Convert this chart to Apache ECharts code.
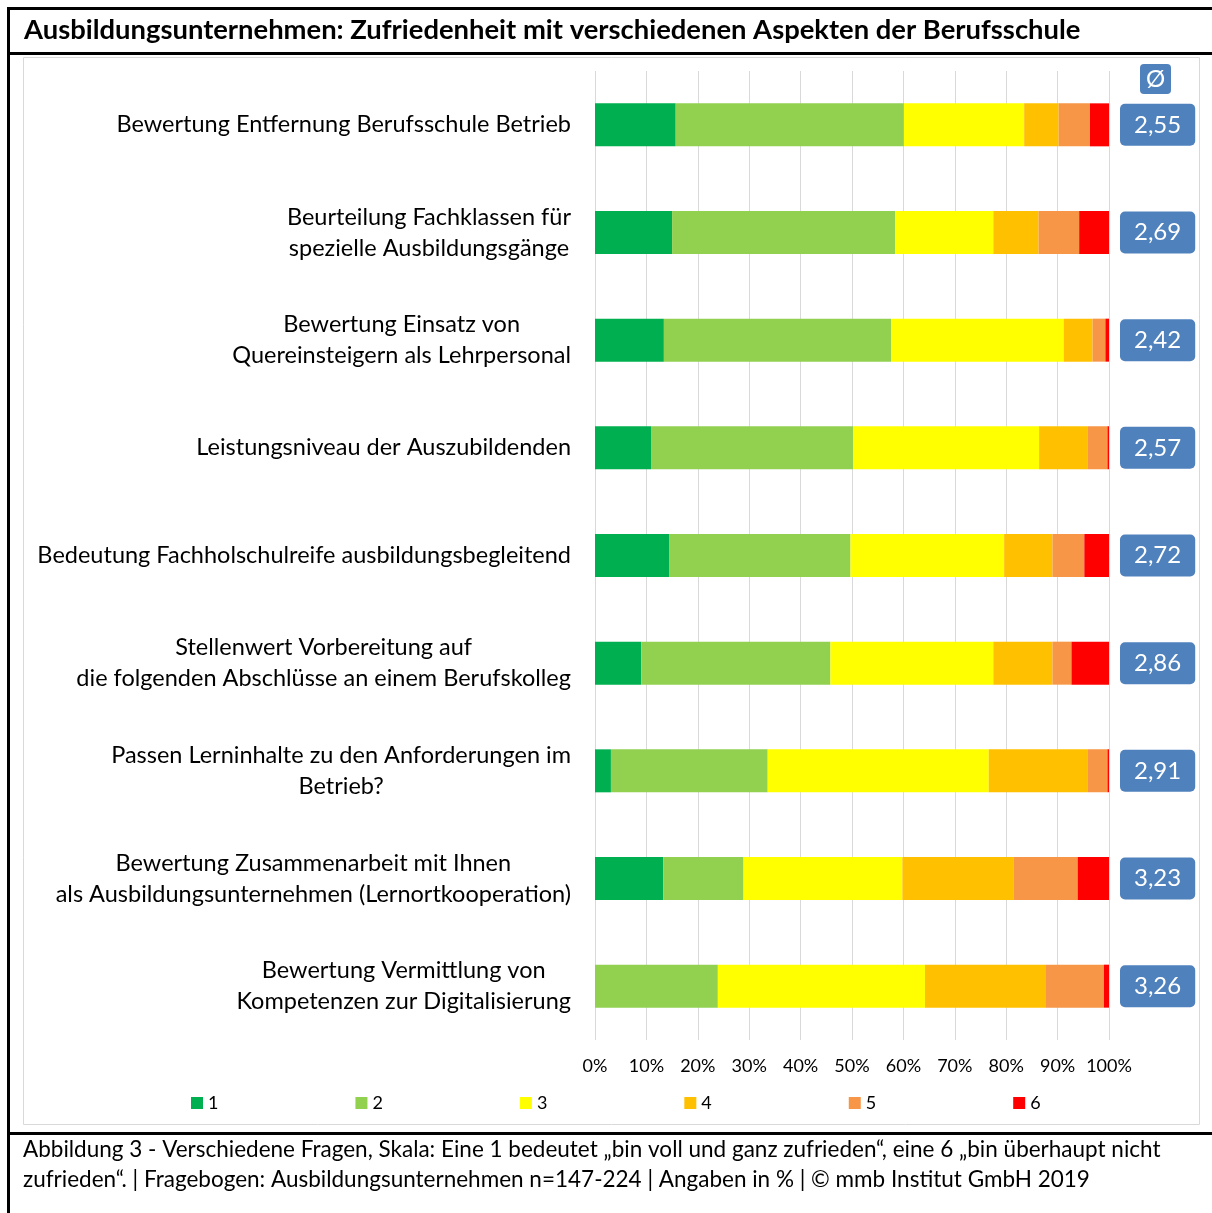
<!DOCTYPE html>
<html>
<head>
<meta charset="utf-8">
<script src="https://cdn.jsdelivr.net/npm/echarts@6/dist/echarts.min.js"></script>
<style>
  html, body { margin: 0; padding: 0; background: #fff; }
  #chart { width: 1212px; height: 1213px; }
</style>
</head>
<body>
<div id="chart"></div>
<script>
const categories = [
  "Bewertung Entfernung Berufsschule Betrieb",
  "Beurteilung Fachklassen für\nspezielle Ausbildungsgänge",
  "Bewertung Einsatz von\nQuereinsteigern als Lehrpersonal",
  "Leistungsniveau der Auszubildenden",
  "Bedeutung Fachholschulreife ausbildungsbegleitend",
  "Stellenwert Vorbereitung auf\ndie folgenden Abschlüsse an einem Berufskolleg",
  "Passen Lerninhalte zu den Anforderungen im\nBetrieb?",
  "Bewertung Zusammenarbeit mit Ihnen\nals Ausbildungsunternehmen (Lernortkooperation)",
  "Bewertung Vermittlung von\nKompetenzen zur Digitalisierung"
];

// Anteile in % je Note (1 = bin voll und ganz zufrieden ... 6 = bin überhaupt nicht zufrieden)
const grade1 = [15.7, 15.0, 13.4, 10.9, 14.5, 9.0, 3.1, 13.3, 0];
const grade2 = [44.4, 43.4, 44.2, 39.3, 35.2, 36.8, 30.5, 15.6, 23.9];
const grade3 = [23.4, 19.1, 33.6, 36.2, 29.9, 31.7, 43.0, 30.9, 40.3];
const grade4 = [6.7, 8.8, 5.6, 9.4, 9.4, 11.5, 19.3, 21.6, 23.4];
const grade5 = [6.1, 7.9, 2.5, 3.9, 6.2, 3.7, 3.8, 12.5, 11.4];
const grade6 = [3.7, 5.8, 0.7, 0.3, 4.8, 7.3, 0.3, 6.1, 1.0];

// Durchschnittsnote je Frage
const averages = ["2,55", "2,69", "2,42", "2,57", "2,72", "2,86", "2,91", "3,23", "3,26"];

const gradeNames = ["1", "2", "3", "4", "5", "6"];
const gradeColors = ["#00B050", "#92D050", "#FFFF00", "#FFC000", "#F79646", "#FF0000"];

const font = "Lato";
const blue = "#4F81BD";

const chart = echarts.init(document.getElementById("chart"));

const gradeData = [grade1, grade2, grade3, grade4, grade5, grade6];

const series = gradeData.map((values, i) => {
  const s = {
    name: gradeNames[i],
    type: "bar",
    stack: "total",
    barWidth: 43,
    data: values,
    itemStyle: { color: gradeColors[i] },
    emphasis: { disabled: true }
  };
  // Durchschnitt als blaue Box rechts neben dem Balken
  if (i === gradeData.length - 1) {
    s.label = {
      show: true,
      position: "right",
      distance: 11,
      formatter: p => averages[p.dataIndex],
      backgroundColor: blue,
      borderRadius: 5,
      padding: [8, 14, 8, 14],
      color: "#fff",
      fontFamily: font,
      fontSize: 24,
      lineHeight: 26
    };
  }
  return s;
});

chart.setOption({
  animation: false,
  textStyle: { fontFamily: font },
  grid: { left: 595, right: 103, top: 71, bottom: 173, containLabel: false },
  xAxis: {
    type: "value",
    min: 0,
    max: 100,
    interval: 10,
    axisLine: { show: false },
    axisTick: { show: false },
    splitLine: { lineStyle: { color: "#d9d9d9", width: 1 } },
    axisLabel: {
      formatter: "{value}%",
      color: "#000",
      fontSize: 18,
      margin: 17,
      fontFamily: font
    }
  },
  yAxis: {
    type: "category",
    inverse: true,
    data: categories,
    axisLine: { show: false },
    axisTick: { show: false },
    axisLabel: {
      margin: 24,
      formatter: v => v.split("\n").map(l => "{c|" + l + "}").join("\n"),
      rich: {
        c: { align: "center", fontSize: 23.5, lineHeight: 31, color: "#000", fontFamily: font }
      }
    }
  },
  legend: {
    data: gradeNames,
    left: 186,
    top: 1089,
    icon: "rect",
    itemWidth: 12,
    itemHeight: 12,
    itemGap: 137,
    textStyle: { fontSize: 18, color: "#000", fontFamily: font }
  },
  series: series,
  graphic: [
    // Rahmen
    { type: "line", shape: { x1: 7, y1: 8.5, x2: 1212, y2: 8.5 }, style: { stroke: "#000", lineWidth: 3 } },
    { type: "line", shape: { x1: 8.5, y1: 7, x2: 8.5, y2: 1213 }, style: { stroke: "#000", lineWidth: 3 } },
    { type: "line", shape: { x1: 7, y1: 53.5, x2: 1212, y2: 53.5 }, style: { stroke: "#000", lineWidth: 3 } },
    { type: "line", shape: { x1: 7, y1: 1133.5, x2: 1212, y2: 1133.5 }, style: { stroke: "#000", lineWidth: 3 } },
    { type: "rect", shape: { x: 23.5, y: 57.5, width: 1176, height: 1067 }, style: { fill: null, stroke: "#d9d9d9", lineWidth: 1 } },
    // Titel
    {
      type: "text", x: 24, y: 30,
      style: {
        text: "Ausbildungsunternehmen: Zufriedenheit mit verschiedenen Aspekten der Berufsschule",
        fontFamily: font, fontSize: 27.4, fontWeight: "bold", fill: "#000", verticalAlign: "middle"
      }
    },
    // Ø-Kopf
    { type: "rect", shape: { x: 1140, y: 64, width: 31, height: 30, r: 4 }, style: { fill: blue } },
    {
      type: "text", x: 1155.5, y: 79,
      style: { text: "Ø", fontFamily: font, fontSize: 24, fill: "#fff", align: "center", verticalAlign: "middle" }
    },
    // Unterschrift
    {
      type: "text", x: 23, y: 1135,
      style: {
        text: "Abbildung 3 - Verschiedene Fragen, Skala: Eine 1 bedeutet „bin voll und ganz zufrieden“, eine 6 „bin überhaupt nicht\nzufrieden“. | Fragebogen: Ausbildungsunternehmen n=147-224 | Angaben in % | © mmb Institut GmbH 2019",
        fontFamily: font, fontSize: 22.5, lineHeight: 30, fill: "#000"
      }
    }
  ]
});
</script>
</body>
</html>
